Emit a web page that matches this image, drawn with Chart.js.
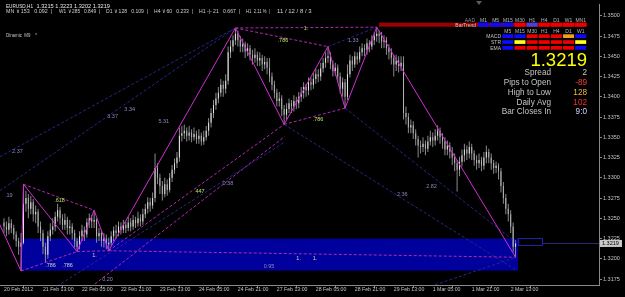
<!DOCTYPE html>
<html>
<head>
<meta charset="utf-8">
<script src="https://cdn.jsdelivr.net/npm/chart.js@4.4.1/dist/chart.umd.min.js"></script>
<style>
html, body { margin: 0; padding: 0; background: #000; overflow: hidden; }
#wrap { width: 625px; height: 297px; }
</style>
</head>
<body>
<div id="wrap"><canvas id="chart" width="625" height="297"></canvas></div>
<script>
// EURUSD H1, one value per bar (bar 0 = 20 Feb 21:00)
const closes = [
1.3240,1.3236,1.3244,1.3238,1.3230,1.3222,1.3215,1.3220,1.3268,1.3275,
1.3262,1.3270,1.3255,1.3258,1.3240,1.3232,1.3215,1.3205,1.3228,1.3236,
1.3240,1.3252,1.3260,1.3250,1.3242,1.3248,1.3238,1.3240,1.3232,1.3222,
1.3215,1.3228,1.3235,1.3230,1.3245,1.3250,1.3246,1.3248,1.3228,1.3232,
1.3222,1.3225,1.3218,1.3220,1.3228,1.3235,1.3232,1.3240,1.3236,1.3242,
1.3238,1.3245,1.3240,1.3248,1.3244,1.3250,1.3246,1.3255,1.3262,1.3270,
1.3266,1.3275,1.3312,1.3300,1.3290,1.3280,1.3292,1.3285,1.3300,1.3310,
1.3318,1.3325,1.3352,1.3355,1.3358,1.3352,1.3356,1.3350,1.3354,1.3348,
1.3352,1.3345,1.3350,1.3358,1.3368,1.3380,1.3390,1.3398,1.3405,1.3415,
1.3410,1.3420,1.3455,1.3462,1.3470,1.3478,1.3470,1.3462,1.3465,1.3456,
1.3460,1.3452,1.3448,1.3452,1.3445,1.3448,1.3440,1.3443,1.3436,1.3425,
1.3415,1.3405,1.3395,1.3398,1.3385,1.3378,1.3385,1.3392,1.3388,1.3395,
1.3392,1.3400,1.3405,1.3412,1.3408,1.3418,1.3415,1.3422,1.3428,1.3425,
1.3435,1.3442,1.3448,1.3450,1.3440,1.3432,1.3436,1.3425,1.3410,1.3418,
1.3400,1.3428,1.3445,1.3440,1.3450,1.3446,1.3455,1.3460,1.3458,1.3466,
1.3462,1.3470,1.3475,1.3478,1.3475,1.3468,1.3470,1.3460,1.3455,1.3448,
1.3440,1.3445,1.3438,1.3442,1.3380,1.3375,1.3362,1.3365,1.3355,1.3348,
1.3340,1.3338,1.3342,1.3336,1.3345,1.3350,1.3346,1.3352,1.3358,1.3350,
1.3345,1.3335,1.3340,1.3332,1.3325,1.3318,1.3310,1.3320,1.3328,1.3335,
1.3330,1.3338,1.3330,1.3322,1.3318,1.3322,1.3315,1.3325,1.3332,1.3325,
1.3318,1.3312,1.3315,1.3308,1.3290,1.3275,1.3262,1.3255,1.3240,1.3215,
1.3219
];
const highs = [
1.3250,1.3246,1.3252,1.3249,1.3242,1.3234,1.3226,1.3232,1.3292,1.3284,
1.3280,1.3278,1.3274,1.3266,1.3262,1.3246,1.3236,1.3220,1.3234,1.3244,
1.3250,1.3258,1.3268,1.3264,1.3255,1.3256,1.3252,1.3248,1.3244,1.3236,
1.3226,1.3234,1.3242,1.3240,1.3250,1.3256,1.3254,1.3260,1.3250,1.3238,
1.3236,1.3232,1.3230,1.3226,1.3234,1.3240,1.3242,1.3246,1.3245,1.3248,
1.3246,1.3252,1.3250,1.3254,1.3252,1.3258,1.3255,1.3262,1.3268,1.3276,
1.3275,1.3282,1.3330,1.3318,1.3305,1.3296,1.3300,1.3298,1.3306,1.3316,
1.3324,1.3332,1.3362,1.3364,1.3366,1.3362,1.3364,1.3360,1.3362,1.3358,
1.3360,1.3356,1.3358,1.3364,1.3374,1.3386,1.3396,1.3405,1.3412,1.3422,
1.3420,1.3428,1.3462,1.3470,1.3476,1.3485,1.3482,1.3475,1.3472,1.3468,
1.3466,1.3464,1.3458,1.3460,1.3456,1.3455,1.3452,1.3450,1.3448,1.3448,
1.3430,1.3420,1.3410,1.3406,1.3402,1.3390,1.3392,1.3398,1.3396,1.3402,
1.3400,1.3406,1.3412,1.3418,1.3416,1.3424,1.3424,1.3430,1.3435,1.3434,
1.3442,1.3448,1.3455,1.3462,1.3455,1.3445,1.3442,1.3440,1.3430,1.3424,
1.3422,1.3440,1.3452,1.3450,1.3456,1.3455,1.3462,1.3466,1.3465,1.3472,
1.3470,1.3476,1.3480,1.3486,1.3482,1.3480,1.3476,1.3474,1.3465,1.3460,
1.3452,1.3452,1.3450,1.3450,1.3450,1.3388,1.3380,1.3372,1.3370,1.3360,
1.3352,1.3346,1.3350,1.3346,1.3352,1.3358,1.3356,1.3360,1.3365,1.3362,
1.3355,1.3350,1.3346,1.3344,1.3338,1.3330,1.3322,1.3326,1.3335,1.3342,
1.3340,1.3345,1.3342,1.3334,1.3328,1.3330,1.3326,1.3332,1.3340,1.3336,
1.3330,1.3322,1.3320,1.3318,1.3312,1.3295,1.3280,1.3268,1.3260,1.3245,
1.3223
];
const lows = [
1.3232,1.3228,1.3230,1.3232,1.3224,1.3215,1.3205,1.3185,1.3218,1.3258,
1.3250,1.3255,1.3246,1.3244,1.3232,1.3222,1.3206,1.3196,1.3200,1.3222,
1.3230,1.3234,1.3246,1.3242,1.3236,1.3236,1.3230,1.3230,1.3224,1.3214,
1.3209,1.3212,1.3222,1.3222,1.3226,1.3238,1.3238,1.3238,1.3220,1.3222,
1.3215,1.3214,1.3212,1.3210,1.3216,1.3222,1.3225,1.3228,1.3230,1.3232,
1.3232,1.3234,1.3234,1.3236,1.3238,1.3240,1.3240,1.3242,1.3250,1.3256,
1.3258,1.3262,1.3270,1.3292,1.3280,1.3272,1.3276,1.3278,1.3282,1.3295,
1.3305,1.3312,1.3320,1.3345,1.3348,1.3345,1.3346,1.3344,1.3346,1.3342,
1.3342,1.3340,1.3341,1.3346,1.3352,1.3362,1.3374,1.3384,1.3392,1.3400,
1.3400,1.3404,1.3415,1.3448,1.3456,1.3464,1.3462,1.3455,1.3455,1.3448,
1.3450,1.3445,1.3440,1.3442,1.3438,1.3438,1.3432,1.3434,1.3428,1.3418,
1.3408,1.3398,1.3388,1.3388,1.3376,1.3366,1.3372,1.3380,1.3380,1.3382,
1.3385,1.3386,1.3394,1.3398,1.3400,1.3402,1.3408,1.3410,1.3416,1.3418,
1.3420,1.3430,1.3436,1.3442,1.3434,1.3425,1.3426,1.3418,1.3404,1.3400,
1.3386,1.3396,1.3424,1.3432,1.3436,1.3440,1.3442,1.3450,1.3450,1.3452,
1.3455,1.3458,1.3464,1.3468,1.3466,1.3460,1.3460,1.3452,1.3446,1.3440,
1.3425,1.3432,1.3430,1.3432,1.3372,1.3366,1.3355,1.3355,1.3348,1.3340,
1.3325,1.3330,1.3332,1.3328,1.3332,1.3340,1.3338,1.3340,1.3346,1.3342,
1.3336,1.3328,1.3328,1.3324,1.3316,1.3308,1.3283,1.3302,1.3314,1.3320,
1.3322,1.3324,1.3322,1.3315,1.3310,1.3312,1.3308,1.3310,1.3318,1.3318,
1.3310,1.3305,1.3306,1.3298,1.3282,1.3268,1.3255,1.3246,1.3232,1.3208,
1.3202
];
const firstOpen = 1.3245;
const opens = closes.map((c, i) => i === 0 ? firstOpen : closes[i - 1]);

const timeTickBars = [0, 16, 32, 48, 64, 80, 96, 112, 128, 144, 160, 176, 192, 208];
const timeLabels = ['20 Feb 2012', '21 Feb 13:00', '22 Feb 05:00', '22 Feb 21:00', '23 Feb 13:00',
  '24 Feb 05:00', '24 Feb 21:00', '27 Feb 13:00', '28 Feb 05:00', '28 Feb 21:00', '29 Feb 13:00',
  '1 Mar 05:00', '1 Mar 21:00', '2 Mar 13:00'];
const priceTicks = [1.3175, 1.3200, 1.3225, 1.3250, 1.3275, 1.3300, 1.3325, 1.3350,
  1.3375, 1.3400, 1.3425, 1.3450, 1.3475, 1.3500];

// zigzag turning points
const zigzagBars = [-4, 7, 8, 30, 37, 43, 95, 115, 133, 140, 153, 210];
const zigzagPrices = [1.3257, 1.3185, 1.3292, 1.3209, 1.3260, 1.3210, 1.3485, 1.3366, 1.3462, 1.3386, 1.3486, 1.3202];

// [bar1, price1, bar2, price2]
const pinkLinks = [
  [8, 1.3292, 37, 1.3260], [7, 1.3185, 30, 1.3209], [30, 1.3209, 43, 1.3210],
  [95, 1.3485, 133, 1.3462], [95, 1.3485, 153, 1.3486], [115, 1.3366, 140, 1.3386],
  [43, 1.3210, 210, 1.3202], [43, 1.3210, 115, 1.3366], [29.2, 1.3150, 115.2, 1.3351]
];
const navyLinks = [
  [-1.7, 1.3326, 95, 1.3485], [-1.7, 1.3284, 95, 1.3485], [14.8, 1.3153, 115.2, 1.3344],
  [115, 1.3366, 210.3, 1.3186], [140, 1.3386, 210.3, 1.3220], [133, 1.3462, 153, 1.3486],
  [171.2, 1.3162, 210.3, 1.3202]
];
// [bar, price, text, kind]
const linkLabels = [
  [0.4, 1.3278, '.19', 'n'], [3.3, 1.3333, '2.37', 'n'], [42.4, 1.3376, '3.37', 'n'],
  [49.4, 1.3385, '3.34', 'n'], [63.4, 1.3369, '5.31', 'n'], [20.6, 1.3272, '.618', 'g'],
  [78.6, 1.3283, '447', 'g'], [89.7, 1.3293, '0.38', 'n'], [112.3, 1.3470, '.786', 'g'],
  [123, 1.3484, '1.', 'g'], [141.2, 1.3470, '1.33', 'n'], [126.7, 1.3372, '.786', 'g'],
  [16.9, 1.3192, '.786', 'w'], [23.9, 1.3192, '.786', 'w'], [36.2, 1.3204, '1.', 'w'],
  [40.3, 1.3175, '0.20', 'n'], [106.6, 1.3190, '0.95', 'n'], [120, 1.3201, '1.', 'w'],
  [126.7, 1.3201, '1.', 'w'], [173.3, 1.3289, '2.82', 'n'], [161.3, 1.3280, '2.36', 'n']
];
const rangeBox = [6.9, 211, 1.3225, 1.31855];
const lastPrice = 1.3219;

// indicator panel
const trendCols = ['M1', 'M5', 'M15', 'M30', 'H1', 'H4', 'D1', 'W1', 'MN1'];
const barTrend = ['blue', 'blue', 'blue', 'red', 'violet', 'red', 'red', 'red', 'red'];
const subCols = ['M5', 'M15', 'M30', 'H1', 'H4', 'D1', 'W1'];
const macdRow = ['blue', 'blue', 'red', 'red', 'red', 'orange', 'blue'];
const strRow = ['blue', 'yellow', 'red', 'red', 'red', 'red', 'yellow'];
const emaRow = ['blue', 'red', 'red', 'red', 'red', 'red', 'blue'];
const infoRows = [
  ['Spread', '2', '#c8c8c8'], ['Pips to Open', '-89', '#ff3c3c'], ['High to Low', '128', '#f0b838'],
  ['Daily Avg', '102', '#ff2a2a'], ['Bar Closes In', '9:0', '#d0d0ff']
];

const cellColors = { blue: '#0a0aff', red: '#ee0000', yellow: '#ffff20', orange: '#f0a020', violet: '#4a40e0' };
const labelColors = { n: '#8888c0', g: '#b8e060', w: '#d0d0d0' };
const FONT = '"Liberation Sans", Arial, sans-serif';

function txt(c, s, x, y, size, color, align, maxW) {
  c.font = size + 'px ' + FONT;
  c.fillStyle = color;
  c.textAlign = align || 'left';
  c.textBaseline = 'alphabetic';
  if (maxW) c.fillText(s, x, y, maxW); else c.fillText(s, x, y);
}

const overlay = {
  id: 'overlay',
  beforeDraw(chart) {
    const c = chart.ctx;
    c.save();
    c.fillStyle = '#000';
    c.fillRect(0, 0, chart.width, chart.height);
    c.restore();
  },
  beforeDatasetsDraw(chart) {
    const { ctx: c, chartArea: a, scales: { x, y } } = chart;
    c.save();
    c.beginPath();
    c.rect(a.left, a.top, a.right - a.left, a.bottom - a.top);
    c.clip();
    const x1 = x.getPixelForValue(rangeBox[0]), x2 = x.getPixelForValue(rangeBox[1]);
    const y1 = y.getPixelForValue(rangeBox[2]), y2 = y.getPixelForValue(rangeBox[3]);
    c.fillStyle = '#00009c';
    c.fillRect(x1, y1, x2 - x1, y2 - y1);
    // price line and small box right of the range
    const yp = Math.round(y.getPixelForValue(lastPrice)) + 0.5;
    c.strokeStyle = '#2a2a78';
    c.lineWidth = 1;
    c.beginPath();
    c.moveTo(x.getPixelForValue(221), yp);
    c.lineTo(a.right, yp);
    c.stroke();
    c.strokeStyle = '#2020b0';
    const bx = Math.round(x.getPixelForValue(210.8)) + 0.5;
    const bw = Math.round(x.getPixelForValue(221) - bx);
    const by = Math.round(y.getPixelForValue(1.32255)) + 0.5;
    c.strokeRect(bx, by, bw, 7);
    c.restore();
  },
  afterDatasetsDraw(chart) {
    const { ctx: c, scales: { x, y } } = chart;
    c.save();
    linkLabels.forEach(l => {
      c.font = '5.5px ' + FONT;
      c.fillStyle = labelColors[l[3]];
      c.textAlign = 'left';
      c.textBaseline = 'middle';
      c.fillText(l[2], x.getPixelForValue(l[0]), y.getPixelForValue(l[1]));
    });
    c.restore();
  },
  afterDraw(chart) {
    const { ctx: c, chartArea: a, scales: { y } } = chart;
    c.save();
    // header lines
    txt(c, 'EURUSD,H1', 6, 7.5, 6, '#e8e8e8', 'left', 27);
    txt(c, '1.3215 1.3223 1.3202 1.3219', 36.5, 7.5, 6, '#e8e8e8', 'left', 73.5);
    const groups = [
      ['MN \u2228 153   0.092  |', 6, 46], ['W1 \u2228 285   0.849  |', 59, 41],
      ['D1 \u2228 128   0.109  |', 106, 42], ['H4 \u2228 60   0.233  |', 154, 39],
      ['H1 -|- 21   0.667  |', 199, 41], ['H1  2.11 %  |', 246, 24], ['11 / 12 / 8 / 3', 277, 66]
    ];
    groups.forEach(g => txt(c, g[0], g[1], 12.8, 6, '#d0d0d0', 'left', g[2]));
    txt(c, 'Dinamic  M9    *', 6, 36.5, 6, '#c8c8c8', 'left', 31);

    // chart shift marker
    c.fillStyle = '#5a5a6a';
    c.beginPath();
    c.moveTo(476, 1); c.lineTo(482, 1); c.lineTo(479, 5); c.closePath();
    c.fill();

    // bar trend panel
    const colX = k => 478 + k * 12.15;
    c.fillStyle = '#9c0000';
    c.fillRect(379, 22.7, 208, 4);
    txt(c, 'AAD', 475, 22.3, 5, '#8a8a8a', 'right');
    trendCols.forEach((t, k) => {
      txt(c, t, colX(k) + 5.5, 22.3, 5, '#b8b8b8', 'center');
      c.fillStyle = cellColors[barTrend[k]];
      c.fillRect(colX(k), 22.7, 11, 4);
    });
    txt(c, 'BarTrend', 476, 26.6, 5, '#c8c8c8', 'right');
    subCols.forEach((t, k) => txt(c, t, colX(k + 2) + 5.5, 32.6, 5, '#b8b8b8', 'center'));
    [[macdRow, 'MACD', 34.3], [strRow, 'STR', 40.2], [emaRow, 'EMA', 46]].forEach(r => {
      txt(c, r[1], 501, r[2] + 3.8, 5, '#c0c0c0', 'right');
      r[0].forEach((col, k) => {
        c.fillStyle = cellColors[col];
        c.fillRect(colX(k + 2), r[2], 11, 3.7);
      });
    });

    // price block
    txt(c, lastPrice.toFixed(4), 587, 66, 18.5, '#ffff00', 'right');
    infoRows.forEach((r, i) => {
      const by = 75.2 + i * 9.8;
      txt(c, r[0], 551, by, 8.2, '#c4c4c4', 'right');
      txt(c, r[1], 587, by, 8.2, r[2], 'right');
    });

    // current price label on the axis
    const yp = y.getPixelForValue(lastPrice);
    c.fillStyle = '#c8c8c8';
    c.fillRect(a.right + 1, yp - 3.5, 22, 7);
    c.font = '5.5px ' + FONT;
    c.fillStyle = '#000';
    c.textAlign = 'left';
    c.textBaseline = 'middle';
    c.fillText(lastPrice.toFixed(4), a.right + 3, yp + 0.3);
    c.restore();
  }
};

const wickData = closes.map((c, i) => ({ x: i, y: [lows[i], highs[i]] }));
const bodyData = closes.map((c, i) => ({ x: i, y: [opens[i], c] }));
const toLine = (l, color) => ({
  type: 'line',
  data: [{ x: l[0], y: l[1] }, { x: l[2], y: l[3] }],
  borderColor: color, borderWidth: 1, borderDash: [3, 2],
  pointRadius: 0, order: 2
});

const datasets = [
  {
    type: 'line', label: 'ZigZag',
    data: zigzagBars.map((b, i) => ({ x: b, y: zigzagPrices[i] })),
    borderColor: '#d22ed2', borderWidth: 1, pointRadius: 0, tension: 0, order: 0
  },
  ...pinkLinks.map(l => toLine(l, '#b02ab0')),
  ...navyLinks.map(l => toLine(l, '#26268c')),
  {
    label: 'body', data: bodyData, grouped: false, barThickness: 1, minBarLength: 1,
    inflateAmount: 0, borderWidth: 0, order: 4,
    backgroundColor: ctx => closes[ctx.dataIndex] >= opens[ctx.dataIndex] ? '#e6e6e6' : '#b4b4b4'
  },
  {
    label: 'wick', data: wickData, grouped: false, barThickness: 1,
    inflateAmount: 0, borderWidth: 0, order: 5, backgroundColor: '#8a8a8a'
  }
];

const ctx = document.getElementById('chart').getContext('2d');
new Chart(ctx, {
  type: 'bar',
  data: { datasets: datasets },
  options: {
    responsive: false,
    animation: false,
    devicePixelRatio: 1,
    layout: { padding: 0 },
    plugins: { legend: { display: false }, tooltip: { enabled: false } },
    scales: {
      x: {
        type: 'linear', position: 'bottom', offset: false,
        min: -1.642, max: 244.25,
        afterBuildTicks: s => { s.ticks = timeTickBars.map(v => ({ value: v })); },
        afterFit: s => { s.height = 12; },
        ticks: {
          callback: v => timeLabels[timeTickBars.indexOf(v)],
          align: 'start', autoSkip: false, maxRotation: 0, padding: -2,
          color: '#c4c4c4', font: { size: 5.2, family: 'Liberation Sans' }
        },
        grid: { drawOnChartArea: false, tickLength: 3, color: '#8a8a8a' },
        border: { color: '#8a8a8a' }
      },
      y: {
        type: 'linear', position: 'right',
        min: 1.316772, max: 1.351423,
        afterBuildTicks: s => { s.ticks = priceTicks.map(v => ({ value: v })); },
        afterFit: s => { s.width = 26; },
        ticks: {
          callback: v => v.toFixed(4), padding: 1,
          color: '#c4c4c4', font: { size: 5.5, family: 'Liberation Sans' }
        },
        grid: { drawOnChartArea: false, tickLength: 3, color: '#8a8a8a' },
        border: { color: '#8a8a8a' }
      }
    }
  },
  plugins: [overlay]
});
</script>
</body>
</html>
